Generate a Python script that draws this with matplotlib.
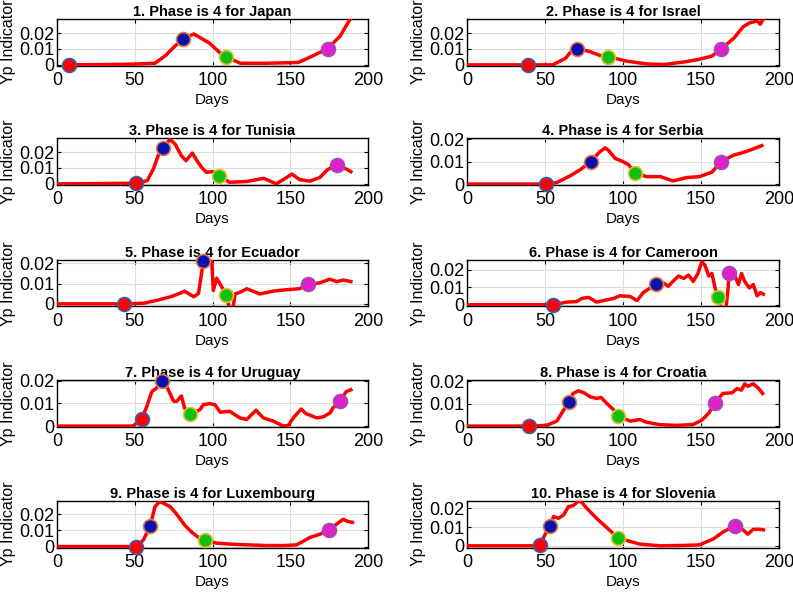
import matplotlib
matplotlib.use('Agg')
import matplotlib.pyplot as plt

plt.rcParams['font.family'] = ['Liberation Sans', 'DejaVu Sans']

countries = ['Japan', 'Israel', 'Tunisia', 'Serbia', 'Ecuador',
             'Cameroon', 'Uruguay', 'Croatia', 'Luxembourg', 'Slovenia']

# line data: (day, Yp indicator)
japan_days = [5, 20, 40, 50, 63, 70, 75, 81, 88, 98, 105, 109, 118, 135, 155, 160, 174, 182, 189]
japan_vals = [0, 0.0001, 0.0003, 0.0005, 0.001, 0.006, 0.011, 0.0162, 0.0194, 0.0137, 0.0074, 0.0048,
              0.001, 0.001, 0.0015, 0.0036, 0.0101, 0.018, 0.0295]

israel_days = [0, 40, 55, 57.6, 63, 66, 70.4, 78, 85, 90.7, 102, 115, 126, 139, 149, 157, 163,
               171, 177, 181, 186, 188, 190]
israel_vals = [0, 0, 0, 0.0014, 0.004, 0.0075, 0.01, 0.0086, 0.006, 0.0051, 0.0024, 0.0006, 0.0002,
               0.0018, 0.0035, 0.0055, 0.01, 0.0167, 0.0239, 0.0263, 0.0276, 0.0255, 0.029]

tunisia_days = [0, 51, 58, 62, 65, 68, 72.7, 76, 80, 83, 87, 90, 93, 96, 100.5, 104, 111, 122,
                133, 141, 148, 151, 156, 162.5, 169, 174, 180, 186, 189]
tunisia_vals = [0, 0.0004, 0.002, 0.0094, 0.0177, 0.0223, 0.028, 0.025, 0.0177, 0.0146, 0.0194,
                0.0146, 0.0104, 0.0073, 0.0077, 0.0052, 0.001, 0.0015, 0.0035, 0.0, 0.0042, 0.0062,
                0.0027, 0.0017, 0.004, 0.009, 0.0119, 0.0094, 0.0077]

serbia_days = [0, 50.8, 57.6, 66, 72.6, 79.4, 85, 88.6, 90.7, 95, 100, 103.5, 108, 115, 124, 132,
               141, 149, 157, 163, 171, 175, 181, 189]
serbia_vals = [0, 0, 0.0007, 0.0036, 0.0064, 0.01, 0.0143, 0.0161, 0.015, 0.0114, 0.01, 0.0086,
               0.005, 0.0033, 0.0033, 0.0014, 0.0029, 0.0033, 0.0053, 0.01, 0.0129, 0.0136, 0.015,
               0.0171]

ecuador_days = [0, 42.8, 55.6, 64, 73, 79, 82, 88, 91, 93, 94, 99.5, 100.5, 102.7, 106, 109, 111,
                113, 114.5, 117.6, 122, 130.5, 139, 147.6, 156, 161.5, 169, 175.4, 180, 184, 189]
ecuador_vals = [0, 0, 0.0003, 0.0017, 0.0035, 0.0052, 0.0063, 0.0035, 0.0052, 0.0153, 0.0212,
                0.0223, 0.0066, 0.0127, 0.0083, 0.0045, -0.003, -0.003, 0.0049, 0.0057, 0.0075,
                0.0049, 0.0063, 0.007, 0.0075, 0.0096, 0.0104, 0.0122, 0.011, 0.0118, 0.011]

cameroon_days = [0, 55, 64, 70.4, 73.6, 78, 83, 87.5, 94, 98, 104.6, 109, 113, 116, 121, 126, 129,
                 132, 135.6, 139, 142, 145, 148, 150.5, 152.6, 155, 157, 159, 161, 163, 166, 167.5,
                 168, 170.7, 174, 176, 178, 181, 183.5, 186, 188, 190]
cameroon_vals = [0, 0, 0.0015, 0.0018, 0.0036, 0.0042, 0.0015, 0.0024, 0.0036, 0.0051, 0.0047,
                 0.0024, 0.0069, 0.0087, 0.0118, 0.0124, 0.0105, 0.0133, 0.0164, 0.015, 0.0169,
                 0.0133, 0.0178, 0.0245, 0.0224, 0.0164, 0.0178, 0.0096, 0.0042, -0.002, -0.002,
                 0.0105, 0.0182, 0.0187, 0.0115, 0.0178, 0.0133, 0.0096, 0.0115, 0.0051, 0.0069,
                 0.006]

uruguay_days = [0, 49, 54.5, 57.8, 61, 64, 67.4, 70.6, 75, 77, 80, 82, 85.6, 92, 94, 98, 101.6,
                105, 111, 117.6, 122, 128, 132.6, 139, 145.5, 148.7, 152, 157, 160, 167, 171,
                175.6, 177.5, 182, 186, 189]
uruguay_vals = [0, 0, 0.0032, 0.0087, 0.0152, 0.0167, 0.02, 0.0174, 0.0109, 0.0109, 0.0133, 0.008,
                0.0051, 0.0072, 0.0094, 0.0099, 0.0094, 0.0061, 0.0065, 0.0036, 0.0029, 0.007,
                0.0036, 0.0022, 0.0, 0.0003, 0.0036, 0.0075, 0.0055, 0.0036, 0.004, 0.0058, 0.008,
                0.0109, 0.0152, 0.016]

croatia_days = [0, 39.5, 51, 57.6, 62, 65.5, 68, 71.5, 75, 79, 83, 86, 89.6, 94, 96.7, 104.6, 111,
                115, 124, 134.5, 145, 150.5, 155, 159, 164, 170, 173, 176, 178, 180, 183.5, 187,
                189.5]
croatia_vals = [0, 0, 0.0003, 0.0022, 0.0072, 0.0109, 0.0145, 0.0157, 0.0148, 0.013, 0.0123,
                0.0127, 0.0101, 0.0072, 0.0046, 0.0022, 0.0029, 0.0017, 0.0006, 0.0003, 0.0007,
                0.0026, 0.0058, 0.0104, 0.0145, 0.0148, 0.0167, 0.016, 0.0188, 0.0177, 0.0188,
                0.0167, 0.0145]

luxembourg_days = [0, 51, 55.6, 60, 63, 66, 68.5, 72.7, 77, 82, 86.6, 91, 95, 102.7, 113, 124, 135,
                   145.5, 154, 158, 162.6, 169, 175, 179.7, 184, 187, 190]
luxembourg_vals = [0, 0, 0.0041, 0.013, 0.0247, 0.0278, 0.0268, 0.0247, 0.02, 0.0134, 0.0089,
                   0.0056, 0.0041, 0.0021, 0.0014, 0.001, 0.0006, 0.0006, 0.001, 0.0031, 0.0056,
                   0.0076, 0.0103, 0.0138, 0.0169, 0.0155, 0.015]

slovenia_days = [0, 45, 46.5, 53, 55.5, 58.7, 62, 65, 68, 71.5, 73.6, 76.8, 83, 89.6, 96.5, 104.6,
                 111, 124, 139, 149, 158, 164, 172, 177, 180, 183.5, 187.8, 190]
slovenia_vals = [0, 0, 0.0005, 0.0106, 0.0156, 0.0147, 0.0165, 0.0209, 0.0214, 0.0239, 0.0232,
                 0.02, 0.0147, 0.0097, 0.0044, 0.0023, 0.0009, 0.0, 0.0002, 0.0005, 0.0037, 0.0073,
                 0.0108, 0.0085, 0.0062, 0.0088, 0.0088, 0.0085]

# phase markers: red, blue, green, magenta (day, value)
red_pts = [(7.5, 0), (39, 0), (51, 0.0004), (50.8, 0), (42.8, 0),
           (55, 0), (54.5, 0.0032), (39.5, 0), (51, 0), (46.5, 0.0005)]
blue_pts = [(81, 0.0162), (70.4, 0.01), (68, 0.0223), (79.4, 0.01), (94, 0.0212),
            (121, 0.0118), (67.4, 0.02), (65.5, 0.0109), (60, 0.013), (53, 0.0106)]
green_pts = [(109, 0.0048), (90.7, 0.0051), (104, 0.0052), (108, 0.005), (109, 0.0045),
             (161, 0.0042), (85.6, 0.0051), (96.7, 0.0046), (95, 0.0041), (96.5, 0.0044)]
magenta_pts = [(174, 0.0101), (163, 0.01), (180, 0.0119), (163, 0.01), (161.5, 0.0096),
               (168, 0.0182), (182, 0.0109), (159, 0.0104), (175, 0.0103), (172, 0.0108)]

ylims = [(-0.0004, 0.0288), (-0.0004, 0.0288), (-0.0004, 0.0289), (-0.0002, 0.0205),
         (-0.0013, 0.0217), (-0.001, 0.0255), (-0.0002, 0.0203), (-0.0002, 0.0205),
         (-0.0006, 0.0282), (-0.0009, 0.0239)]

series = [(japan_days, japan_vals), (israel_days, israel_vals), (tunisia_days, tunisia_vals),
          (serbia_days, serbia_vals), (ecuador_days, ecuador_vals),
          (cameroon_days, cameroon_vals), (uruguay_days, uruguay_vals),
          (croatia_days, croatia_vals), (luxembourg_days, luxembourg_vals),
          (slovenia_days, slovenia_vals)]

marker_styles = [('#ff0000', '#3a5fb0'), ('#0a10b0', '#e07a40'),
                 ('#10c010', '#e0c030'), ('#e020c8', '#9a50b0')]

W, H = 793, 595
fig = plt.figure(figsize=(W / 100, H / 100), dpi=100)

col_left = [57, 467]
col_width = [311, 312]
row_top = [19, 138, 260, 380, 501]
ax_h = 46.5

for i, name in enumerate(countries):
    r, c = divmod(i, 2)
    ax = fig.add_axes([col_left[c] / W, 1 - (row_top[r] + ax_h) / H,
                       col_width[c] / W, ax_h / H])
    days, vals = series[i]
    ax.plot(days, vals, color='#ff0000', lw=2.5, zorder=3)
    pts = [red_pts[i], blue_pts[i], green_pts[i], magenta_pts[i]]
    for (x, y), (fc, ec) in zip(pts, marker_styles):
        ax.plot(x, y, 'o', ms=10, mfc=fc, mec=ec, mew=1.2, zorder=4, clip_on=False)
    ax.set_xlim(0, 200)
    ax.set_ylim(*ylims[i])
    ax.set_xticks([0, 50, 100, 150, 200])
    ax.set_yticks([0, 0.01, 0.02])
    ax.set_yticklabels(['0', '0.01', '0.02'])
    ax.grid(True, color='#dcdcdc', lw=0.8)
    ax.set_axisbelow(True)
    ax.tick_params(direction='in', length=3, labelsize=13, top=True, right=True)
    ax.tick_params(axis='x', pad=4.5)
    ax.tick_params(axis='y', pad=2)
    for s in ax.spines.values():
        s.set_linewidth(1.0)
    ax.set_title('%d. Phase is 4 for %s' % (i + 1, name), fontsize=10.5,
                 fontweight='bold', pad=2)
    ax.set_xlabel('Days', fontsize=11, labelpad=3)
    ax.set_ylabel('Yp Indicator', fontsize=11.5, labelpad=2)

fig.savefig('out.png', dpi=100)
